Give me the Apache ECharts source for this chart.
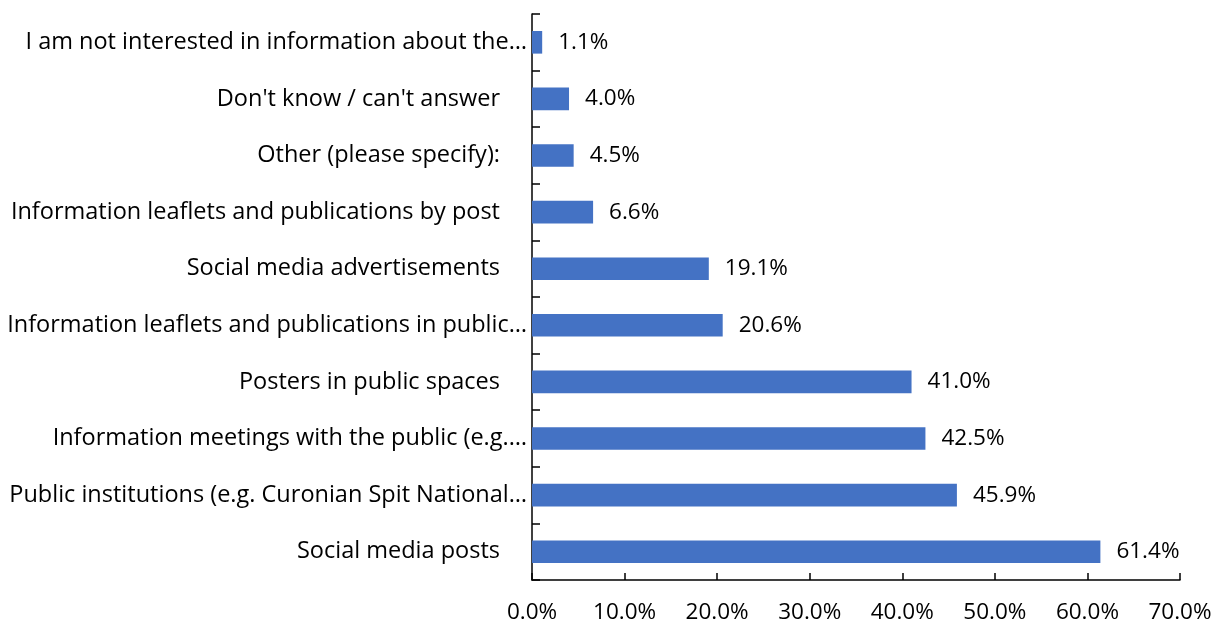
<!DOCTYPE html>
<html lang="en">
<head>
    <meta charset="UTF-8">
    <title>Information channels</title>
    <script src="https://cdn.jsdelivr.net/npm/echarts@6/dist/echarts.min.js"></script>
    <style>
        html, body { margin: 0; padding: 0; background: #fff; }
        #main { width: 1224px; height: 628px; }
    </style>
</head>
<body>
<div id="main"></div>
<script type="text/javascript">
    // categories, top to bottom as shown
    var categories = [
        'I am not interested in information about the\u2026',
        "Don't know / can't answer",
        'Other (please specify):',
        'Information leaflets and publications by post',
        'Social media advertisements',
        'Information leaflets and publications in public\u2026',
        'Posters in public spaces',
        'Information meetings with the public (e.g.\u2026',
        'Public institutions (e.g. Curonian Spit National\u2026',
        'Social media posts'
    ];
    var values = [1.1, 4.0, 4.5, 6.6, 19.1, 20.6, 41.0, 42.5, 45.9, 61.4];
    var xTicks = [0, 10, 20, 30, 40, 50, 60, 70];

    var font = 'Open Sans';
    var fs = 22.5;      // numbers
    var catFs = 23.5;   // category labels
    var chart = echarts.init(document.getElementById('main'));

    var option = {
        animation: false,
        textStyle: { fontFamily: font },
        grid: { left: 532, right: 44, top: 14, bottom: 48, containLabel: false },
        xAxis: {
            type: 'value',
            min: xTicks[0],
            max: xTicks[xTicks.length - 1],
            interval: 10,
            axisLine: { show: true, lineStyle: { color: '#000', width: 1.5 } },
            axisTick: { show: true, inside: true, length: 7, lineStyle: { color: '#000', width: 1.5 } },
            splitLine: { show: false },
            axisLabel: {
                color: '#000', fontSize: fs, fontFamily: font, margin: 21,
                formatter: function (v) { return v.toFixed(1) + '%'; }
            }
        },
        yAxis: {
            type: 'category',
            inverse: true,
            data: categories,
            axisLine: { show: true, lineStyle: { color: '#000', width: 1.5 } },
            axisTick: { show: true, inside: true, length: 8, alignWithLabel: false, lineStyle: { color: '#000', width: 1.5 } },
            axisLabel: {
                color: '#000', fontSize: catFs, fontFamily: font, margin: 5,
                formatter: function (v) {
                    return v.slice(-1) === '\u2026' ? '{t|' + v + '}' : '{p|' + v + '}';
                },
                rich: {
                    t: { color: '#000', fontSize: catFs, fontFamily: font },
                    p: { color: '#000', fontSize: catFs, fontFamily: font, padding: [0, 27, 0, 0] }
                }
            }
        },
        series: [{
            type: 'bar',
            data: values,
            barWidth: '40%',
            itemStyle: { color: '#4472C4' },
            label: {
                show: true,
                position: 'right',
                distance: 16,
                color: '#000',
                fontSize: fs,
                fontFamily: font,
                formatter: function (p) { return p.value.toFixed(1) + '%'; }
            }
        }]
    };
    chart.setOption(option);
</script>
</body>
</html>
